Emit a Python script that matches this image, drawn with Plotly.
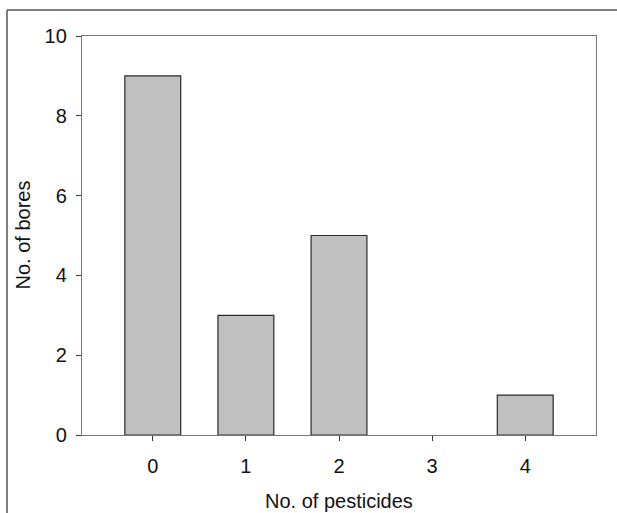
import plotly.graph_objects as go

categories = [0, 1, 2, 3, 4]
bores = [9, 3, 5, 0, 1]
y_ticks = [0, 2, 4, 6, 8, 10]

W, H = 617, 513
L, R, T, B = 82, 21, 36, 78
pw, ph = W - L - R, H - T - B

def px_x(x):
    return (x - L) / pw

def px_y(y):
    return (H - B - y) / ph

line_widths = [0 if v == 0 else 1.2 for v in bores]

fig = go.Figure()
fig.add_trace(go.Bar(
    x=categories, y=bores, width=0.6, hoverinfo="skip",
    marker=dict(color="#c0c0c0", line=dict(color="#2a2a2a", width=line_widths)),
))

fig.update_layout(
    width=W, height=H,
    margin=dict(l=L, r=R, t=T, b=B),
    paper_bgcolor="white", plot_bgcolor="white",
    showlegend=False,
    font=dict(family="Liberation Sans, Arial, sans-serif", size=20, color="#111111"),
    xaxis=dict(
        range=[-0.76, 4.76], tickvals=categories, ticktext=[str(c) for c in categories],
        ticks="outside", ticklen=5, tickcolor="#333333", showgrid=False, zeroline=False,
        showline=True, linecolor="#777777", mirror=True, linewidth=1.3,
        tickfont=dict(size=20), ticklabelstandoff=8,
    ),
    yaxis=dict(
        range=[0, 10], tickvals=y_ticks, ticks="outside", ticklen=5, tickcolor="#333333",
        showgrid=False, zeroline=False, showline=True, linecolor="#777777", mirror=True,
        linewidth=1.3, tickfont=dict(size=20), ticklabelstandoff=5,
    ),
    shapes=[
        dict(type="line", xref="paper", yref="paper", x0=px_x(7), x1=px_x(617),
             y0=px_y(10), y1=px_y(10), line=dict(color="#555555", width=1.5)),
        dict(type="line", xref="paper", yref="paper", x0=px_x(7), x1=px_x(7),
             y0=px_y(10), y1=px_y(513), line=dict(color="#555555", width=1.5)),
    ],
    annotations=[
        dict(text="No. of pesticides", xref="paper", yref="paper", x=0.5, y=px_y(501),
             yanchor="middle", showarrow=False, font=dict(size=20)),
        dict(text="No. of bores", xref="paper", yref="paper", x=px_x(22), y=0.5,
             xanchor="center", yanchor="middle", textangle=-90, showarrow=False,
             font=dict(size=20)),
    ],
)

fig.write_html("out.html", config={"displayModeBar": False},
               post_script="document.body.style.margin='0';")
